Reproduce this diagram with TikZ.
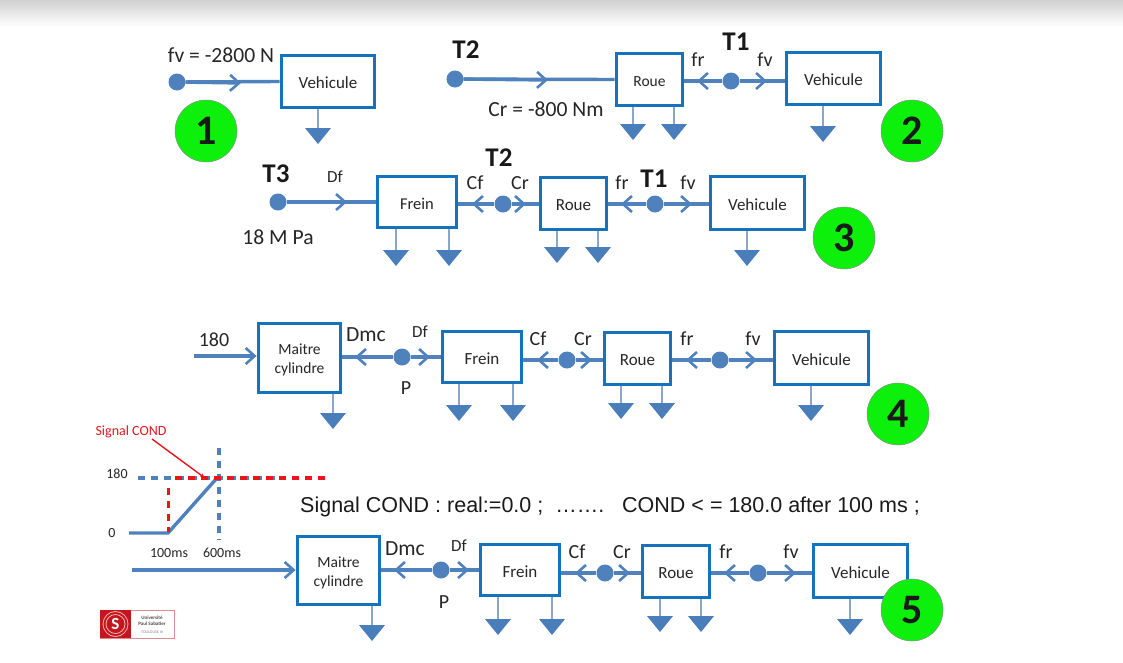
\documentclass[tikz,border=0pt]{standalone}
\usepackage{fontspec}
\setmainfont{Carlito}
\usetikzlibrary{arrows.meta,calc}
\definecolor{boxblue}{HTML}{1572BD}
\definecolor{linkblue}{HTML}{4F81BD}
\definecolor{gndblue}{HTML}{4A7EBB}
\definecolor{stemblue}{HTML}{8AA6C8}
\definecolor{numgreen}{HTML}{0CF00C}
\definecolor{txt}{HTML}{262626}
\definecolor{sigred}{HTML}{E8151B}
\definecolor{logored}{HTML}{C4161C}
\tikzset{
  x=1pt,y=-1pt,
  blockbox/.style={draw=boxblue,line width=3.8pt,fill=white,align=center,inner sep=0pt,text=txt,font=\fontsize{17}{20}\selectfont},
  mcbox/.style={blockbox,font=\fontsize{15.5}{19}\selectfont},
  flow/.style={draw=linkblue,line width=3.4pt},
  tipped/.style={flow,-{Straight Barb[length=9pt,width=16pt,line width=2.6pt]}},
  dashblue/.style={draw=linkblue,line width=3.4pt,dash pattern=on 7pt off 6pt},
  dashred/.style={draw=sigred,line width=3.4pt,dash pattern=on 7pt off 6pt},
  stem/.style={draw=stemblue,line width=1.4pt},
  gndtri/.style={fill=gndblue,draw=none},
  junction/.style={circle,fill=linkblue,inner sep=0pt,minimum size=17pt},
  numdisc/.style={circle,fill=numgreen,draw=black!45,line width=.5pt,inner sep=0pt,minimum size=62pt,font=\fontsize{42}{42}\selectfont\bfseries,text=black!90},
  lab/.style={inner sep=0pt,text=txt,font=\fontsize{21.6}{24}\selectfont},
  midlab/.style={inner sep=0pt,text=txt,font=\fontsize{20}{24}\selectfont},
  smalllab/.style={inner sep=0pt,text=txt,font=\fontsize{17}{20}\selectfont},
  biglab/.style={inner sep=0pt,text=black!90,font=\fontsize{27}{30}\selectfont\bfseries},
  axislab/.style={inner sep=0pt,text=txt,font=\fontsize{14}{16}\selectfont},
}
% style, name, x1, y1, x2, y2, text
\newcommand\blk[7][blockbox]{%
  \pgfmathsetmacro\bw{#5-#3-3}\pgfmathsetmacro\bh{#6-#4-3}%
  \node[#1,minimum width=\bw pt,minimum height=\bh pt] (#2) at ({(#3+#5)/2},{(#4+#6)/2}) {\rule{0pt}{15pt}#7};}
% name, box, x, top of triangle
\newcommand\gnd[4]{%
  \coordinate (#1) at (#3,#4);
  \draw[stem] (#1 |- #2.south) -- (#1);
  \fill[gndtri] ($(#1)+(-13,0)$) -- ($(#1)+(13,0)$) -- ($(#1)+(0,16)$) -- cycle;}
% junction name, x, y, left box anchor, right box anchor, left tip x, right tip x
\newcommand\junc[7]{%
  \node[junction] (#1) at (#2,#3) {};
  \coordinate (#1L) at (#6,#3);
  \coordinate (#1R) at (#7,#3);
  \draw[flow] (#4 |- #1) -- (#1);
  \draw[flow] (#1) -- (#5 |- #1);
  \draw[tipped] (#1) -- (#1L);
  \draw[tipped] (#1) -- (#1R);}
\begin{document}
\begin{tikzpicture}
\useasboundingbox (0,0) rectangle (1123,662);
\shade[top color=black!18,bottom color=white] (0,0) rectangle (1123,26);

% ---- 1
\blk{aVeh}{280}{54}{376}{109}{Vehicule}
\node[junction] (aDot) at (177,82) {};
\coordinate (aTip) at (241,83);
\draw[flow] (aDot) -- (aVeh.west);
\draw[tipped] (aDot) -- (aTip);
\gnd{aG}{aVeh}{318}{128}
\node[lab] (aL) at (221,55) {fv = -2800 N};
\node[numdisc] (aN) at (206,131) {1};

% ---- 2
\blk{bRoue}{615}{52}{684}{107}{\fontsize{15.5}{18}\selectfont Roue}
\blk{bVeh}{785}{51}{882}{106}{Vehicule}
\node[junction] (bDot) at (455,79) {};
\coordinate (bTip) at (548,80);
\draw[flow] (bDot) -- (bRoue.west);
\draw[tipped] (bDot) -- (bTip);
\junc{bJ}{731}{81}{bRoue.east}{bVeh.west}{697}{767}
\gnd{bG1}{bRoue}{633}{124}
\gnd{bG2}{bRoue}{674}{124}
\gnd{bG3}{bVeh}{823}{126}
\node[biglab] (bT2) at (466,50) {T2};
\node[lab] (bCr) at (546,109) {Cr = -800 Nm};
\node[midlab] (bfr) at (698,60) {fr};
\node[biglab] (bT1) at (736,42) {T1};
\node[midlab] (bfv) at (765,60) {fv};
\node[numdisc] (bN) at (912,131) {2};

% ---- 3
\blk{cFrein}{376}{175}{458}{229}{\fontsize{16.5}{18}\selectfont Frein}
\blk{cRoue}{539}{176}{608}{231}{Roue}
\blk{cVeh}{709}{175}{806}{231}{Vehicule}
\node[junction] (cDot) at (278,202) {};
\coordinate (cTip) at (347,202);
\draw[flow] (cDot) -- (cFrein.west);
\draw[tipped] (cDot) -- (cTip);
\junc{cJa}{503}{204}{cFrein.east}{cRoue.west}{472}{526}
\junc{cJb}{655}{204}{cRoue.east}{cVeh.west}{621}{692}
\gnd{cG1}{cFrein}{396}{250}
\gnd{cG2}{cFrein}{449}{250}
\gnd{cG3}{cRoue}{557}{247}
\gnd{cG4}{cRoue}{598}{247}
\gnd{cG5}{cVeh}{747}{250}
\node[biglab] (cT3) at (276,174) {T3};
\node[smalllab] (cDf) at (335,177) {Df};
\node[lab] (cP) at (278,237) {18 M Pa};
\node[midlab] (cCf) at (475,183) {Cf};
\node[biglab] (cT2) at (499,158) {T2};
\node[midlab] (cCr) at (520,183) {Cr};
\node[midlab] (cfr) at (622,183) {fr};
\node[biglab] (cT1) at (654,179) {T1};
\node[midlab] (cfv) at (688,183) {fv};
\node[numdisc] (cN) at (844,238) {3};

% ---- 4
\blk[mcbox]{dMC}{257}{322}{342}{394}{Maitre\\cylindre}
\blk{dFrein}{441}{330}{523}{384}{Frein}
\blk{dRoue}{603}{331}{672}{386}{Roue}
\blk{dVeh}{773}{330}{870}{386}{Vehicule}
\coordinate (dIn) at (194,356);
\draw[tipped] (dIn) -- (dMC.west |- dIn);
\junc{dJa}{402}{357}{dMC.east}{dFrein.west}{355}{430}
\junc{dJb}{567}{360}{dFrein.east}{dRoue.west}{537}{592}
\junc{dJc}{720}{360}{dRoue.east}{dVeh.west}{686}{757}
\gnd{dG1}{dMC}{333}{413}
\gnd{dG2}{dFrein}{459}{405}
\gnd{dG3}{dFrein}{513}{405}
\gnd{dG4}{dRoue}{621}{403}
\gnd{dG5}{dRoue}{662}{403}
\gnd{dG6}{dVeh}{811}{405}
\node[midlab] (d180) at (214,340) {180};
\node[lab] (dDmc) at (366,335) {Dmc};
\node[smalllab] (dDf) at (420,332) {Df};
\node[midlab] (dP) at (406,388) {P};
\node[midlab] (dCf) at (538,339) {Cf};
\node[midlab] (dCr) at (583,339) {Cr};
\node[midlab] (dfr) at (687,339) {fr};
\node[midlab] (dfv) at (753,339) {fv};
\node[numdisc] (dN) at (898,414) {4};

% ---- 5
\blk[mcbox]{eMC}{296}{535}{381}{606}{Maitre\\cylindre}
\blk{eFrein}{479}{543}{561}{597}{Frein}
\blk{eRoue}{641}{544}{711}{599}{Roue}
\blk{eVeh}{812}{543}{909}{599}{Vehicule}
\coordinate (eIn) at (132,570);
\draw[tipped] (eIn) -- (eMC.west |- eIn);
\junc{eJa}{441}{570}{eMC.east}{eFrein.west}{394}{469}
\junc{eJb}{605}{573}{eFrein.east}{eRoue.west}{575}{630}
\junc{eJc}{758}{573}{eRoue.east}{eVeh.west}{724}{796}
\gnd{eG1}{eMC}{372}{625}
\gnd{eG2}{eFrein}{498}{619}
\gnd{eG3}{eFrein}{552}{619}
\gnd{eG4}{eRoue}{660}{616}
\gnd{eG5}{eRoue}{701}{616}
\gnd{eG6}{eVeh}{850}{619}
\node[lab] (eDmc) at (405,549) {Dmc};
\node[smalllab] (eDf) at (459,546) {Df};
\node[midlab] (eP) at (444,602) {P};
\node[midlab] (eCf) at (577,552) {Cf};
\node[midlab] (eCr) at (622,552) {Cr};
\node[midlab] (efr) at (726,552) {fr};
\node[midlab] (efv) at (791,552) {fv};
\node[numdisc] (eN) at (912,610) {5};

% ---- signal chart
\coordinate (sA) at (129,533);
\coordinate (sB) at (168,533);
\coordinate (sC) at (217,478);
\coordinate (sHa) at (138,478);
\coordinate (sHb) at (285,478);
\coordinate (sRa) at (175,478);
\coordinate (sRb) at (328,478);
\coordinate (sVa) at (219,448);
\coordinate (sVb) at (219,540);
\coordinate (sQa) at (168.5,488);
\coordinate (sQb) at (168.5,532);
\coordinate (sPa) at (152,439);
\coordinate (sPb) at (205,478);
\draw[dashblue] (sHa) -- (sHb);
\draw[dashblue] (sVa) -- (sVb);
\draw[flow] (sA) -- (sB) -- (sC);
\draw[dashred] (sRa) -- (sRb);
\draw[dashred] (sQa) -- (sQb);
\draw[draw=sigred,line width=1.4pt,-{Stealth[open,length=5pt,width=4pt]}] (sPa) -- (sPb);
\node[inner sep=0pt,text=sigred,font=\fontsize{14}{16}\selectfont] (sName) at (131,432) {Signal COND};
\node[axislab] (s180) at (117,474) {180};
\node[axislab] (s0) at (112,533) {0};
\node[axislab] (s100) at (169,553) {100ms};
\node[axislab] (s600) at (222,553) {600ms};
\node[inner sep=0pt,text=black!90,font=\fontsize{21.5}{26}\selectfont] (sTxt) at (610,507) {\setmainfont{Liberation Sans}Signal COND : real:=0.0 ;\ \ \dots\dots.\ \ \ COND < = 180.0 after 100 ms ;};

% ---- logo
\node[draw=logored!50,line width=.8pt,fill=white,minimum width=74pt,minimum height=28pt,inner sep=0pt] (lBox) at (137,624) {};
\node[fill=logored,minimum width=31pt,minimum height=28pt,inner sep=0pt] (lMark) at (115.5,624) {};
\node[circle,draw=white!70!logored,line width=.8pt,minimum size=25pt,inner sep=0pt] (lRing) at (lMark) {};
\node[circle,draw=white!70!logored,line width=.8pt,minimum size=19pt,inner sep=0pt,text=white,font=\bfseries\fontsize{17}{17}\selectfont] (lS) at (lMark) {S};
\node[inner sep=0pt,align=center,text=black!70,font=\fontsize{5}{6}\selectfont\bfseries] (lText) at (152,621) {Université\\Paul Sabatier};
\node[inner sep=0pt,text=black!50,font=\fontsize{4}{4}\selectfont] (lCity) at (152,632) {TOULOUSE III};
\end{tikzpicture}
\end{document}
